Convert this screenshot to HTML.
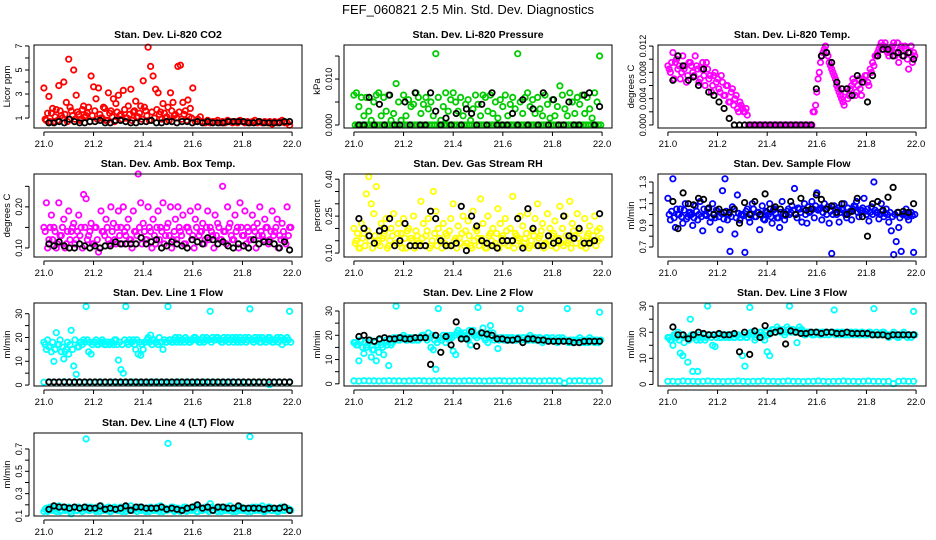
<!DOCTYPE html>
<html><head><meta charset="utf-8"><style>
html,body{margin:0;padding:0;background:#fff;}
svg{display:block;font-family:"Liberation Sans",sans-serif;}
</style></head><body>
<svg id="chart" width="936" height="540" viewBox="0 0 936 540">
<text x="468" y="14" text-anchor="middle" font-size="13">FEF_060821  2.5 Min. Std. Dev. Diagnostics</text>
</svg>
<script>
// ---- data arrays ----
const xTicks=[21.0,21.2,21.4,21.6,21.8,22.0];
const xTickLabels=["21.0","21.2","21.4","21.6","21.8","22.0"];

const co2Red=[3.5,0.8,2.8,1.4,0.7,1.7,3.7,1.2,4.0,2.3,5.9,1.6,5.0,2.9,1.3,0.9,2.0,1.2,1.9,4.5,3.6,2.6,3.5,1.0,1.9,0.8,3.1,1.6,2.6,2.2,2.9,1.3,3.3,1.0,2.0,3.4,1.5,2.4,1.1,2.0,4.1,1.6,6.9,5.3,4.5,3.4,3.1,1.5,2.2,1.0,1.9,3.1,2.3,1.3,5.3,5.4,2.3,1.6,2.5,1.8,3.5,0.7,0.9,1.1,0.7,0.6,0.8,0.6,0.7,0.7,0.8,0.6,0.7,0.6,0.8,0.7,0.6,0.7,0.6,0.8,0.7,0.6,0.7,0.6,0.7,0.8,0.6,0.7,0.6,0.7,0.6,0.7,0.5,0.7,0.6,0.7,0.8,0.6,0.6,0.4];
const co2RedBand=[0.9,1.4,0.7,1.8,1.1,0.8,1.6,1.0,1.3,0.7,1.9,1.2,0.9,1.5,0.8,1.7,1.1,1.4,0.7,1.2,1.6,0.9,1.3,1.0,1.8,0.8,1.4,1.1,0.7,1.5,1.2,0.9,1.7,1.0,1.3,0.8,1.6,1.1,1.4,0.9,1.9,1.2,0.8,1.5,1.0,1.7,1.3,0.9,1.4,1.1,0.8,1.6,1.2,1.0,1.5,0.9,1.3,0.8,1.1,1.0];
const co2Black=[0.6,0.6,0.7,0.6,0.9,0.7,0.6,0.6,0.7,0.7,0.8,0.6,0.6,0.8,0.8,0.7,0.6,0.6,0.7,0.7,0.8,0.6,0.6,0.7,0.7,0.6,0.7,0.7,0.6,0.7,0.6,0.7,0.6,0.6,0.6,0.7,0.7,0.7,0.7,0.6,0.6,0.7,0.6,0.6,0.6,0.6,0.7,0.7];

const presGreen=[0.0065,0.007,0.004,0.006,0.002,0.006,0.003,0.001,0.005,0.0065,0.007,0.002,0.006,0.003,0.0065,0.001,0.0025,0.009,0.005,0.001,0.0065,0.002,0.0055,0.004,0.0045,0.007,0.006,0.0025,0.0045,0.006,0.0035,0.005,0.002,0.0155,0.006,0.001,0.004,0.007,0.003,0.0055,0.007,0.005,0.003,0.006,0.002,0.0045,0.0055,0.001,0.0035,0.0065,0.0045,0.002,0.0065,0.006,0.003,0.0065,0.0025,0.005,0.0015,0.0055,0.004,0.0065,0.002,0.0045,0.006,0.0035,0.0155,0.005,0.0025,0.006,0.007,0.004,0.0055,0.0025,0.006,0.0035,0.002,0.0065,0.0045,0.0015,0.0055,0.002,0.004,0.0085,0.0065,0.0035,0.002,0.007,0.005,0.0025,0.006,0.0045,0.0065,0.0025,0.006,0.0035,0.0015,0.007,0.005,0.015];
const presGreenZero=[0,0,0,0,0,0,0,0,0,0,0,0,0,0,0,0,0,0,0,0,0,0,0,0,0,0,0,0,0,0,0,0,0,0,0,0,0,0,0,0,0,0,0,0,0,0,0,0,0,0,0,0,0,0,0,0,0,0,0,0,0,0,0,0,0,0,0,0,0,0,0,0,0,0,0,0,0,0,0,0,0,0,0,0,0,0,0,0,0,0,0,0,0,0,0,0,0,0,0,0];
const presBlack=[0,0,0.006,0,0.0045,0,0.0065,0,0,0.005,0,0.007,0,0,0.007,0.003,0,0.0015,0,0.0025,0,0.0035,0.0025,0,0.0045,0,0.007,0,0,0,0.0025,0,0.0055,0,0.0035,0,0.007,0,0.0055,0,0,0.005,0,0,0.0065,0.007,0,0.004];

const tempPink=[0.009,0.008,0.011,0.0095,0.0085,0.007,0.0105,0.009,0.0075,0.0095,0.008,0.0105,0.0085,0.007,0.0095,0.006,0.0085,0.0075,0.006,0.008,0.007,0.005,0.0065,0.0045,0.006,0.0035,0.0055,0.004,0.0025,0.0035,0.0025,0.002,0.0015,0,0,0,0,0,0,0,0,0,0,0,0,0,0,0,0,0,0,0,0,0,0,0,0,0,0,0.002,0.005,0.008,0.0105,0.0115,0.011,0.0095,0.0085,0.0075,0.006,0.005,0.004,0.003,0.0055,0.0045,0.006,0.0065,0.005,0.007,0.0045,0.0065,0.0075,0.006,0.008,0.009,0.0105,0.0115,0.0125,0.012,0.0115,0.0105,0.0115,0.0125,0.011,0.0095,0.012,0.0105,0.0115,0.0085,0.012,0.011];
const tempPinkBand=[0.0085,0.0095,0.007,0.01,0.009,0.008,0.0085,0.0065,0.0095,0.009,0.0075,0.009,0.0065,0.0085,0.0075,0.0095,0.007,0.005,0.0075,0.0065,0.0055,0.0075,0.0045,0.006,0.0035,0.005,0.003,0.0045,0.002,0.003,0.002,0.0025,0,0,0,0,0,0,0,0,0,0,0,0,0,0,0,0,0,0,0,0,0,0,0,0,0,0,0.002,0.003,0.007,0.0095,0.011,0.012,0.0105,0.009,0.008,0.007,0.0055,0.0045,0.0035,0.005,0.004,0.0055,0.007,0.0045,0.006,0.0055,0.007,0.0075,0.0065,0.0085,0.0095,0.0105,0.011,0.012,0.0115,0.0125,0.011,0.0115,0.012,0.0105,0.0125,0.0115,0.0105,0.012,0.01,0.011,0.0095,0.0105];
const tempBlack=[0.0068,0.0105,0.009,0.0068,0.0073,0.006,0.0085,0.005,0.0045,0.0035,0.0025,0.001,0,0,0,0,0,0,0,0,0,0,0,0,0,0,0,0,0.0055,0.0105,0.011,0.0095,0.0065,0.0055,0.0055,0.0045,0.0075,0.0065,0.0035,0.0075,0.0105,0.0115,0.0115,0.0105,0.011,0.0105,0.011,0.01];

const ambPink=[0.15,0.21,0.12,0.18,0.15,0.1,0.21,0.13,0.17,0.11,0.19,0.14,0.16,0.12,0.18,0.15,0.23,0.22,0.13,0.16,0.11,0.15,0.09,0.19,0.14,0.17,0.12,0.2,0.16,0.11,0.19,0.15,0.2,0.13,0.17,0.12,0.19,0.14,0.28,0.21,0.16,0.12,0.2,0.14,0.17,0.11,0.19,0.15,0.21,0.13,0.16,0.2,0.12,0.17,0.2,0.14,0.18,0.11,0.15,0.19,0.13,0.17,0.2,0.14,0.16,0.12,0.19,0.15,0.13,0.18,0.16,0.12,0.25,0.14,0.2,0.16,0.12,0.18,0.15,0.21,0.13,0.19,0.15,0.12,0.18,0.14,0.16,0.2,0.13,0.17,0.15,0.12,0.19,0.14,0.17,0.13,0.16,0.12,0.2,0.15];
const ambPinkBand=[0.14,0.1,0.15,0.12,0.14,0.11,0.13,0.15,0.1,0.14,0.12,0.15,0.11,0.14,0.13,0.1,0.15,0.12,0.14,0.11,0.15,0.12,0.1,0.14,0.13,0.15,0.11,0.14,0.12,0.15,0.13,0.11,0.14,0.15,0.12,0.1,0.14,0.13,0.15,0.11,0.14,0.12,0.15,0.1,0.13,0.15,0.12,0.14,0.11,0.15,0.13,0.1,0.14,0.12,0.15,0.13,0.11,0.15,0.14,0.12,0.1,0.15,0.13,0.14,0.11,0.15,0.12,0.14,0.1,0.13,0.15,0.12,0.14,0.11,0.15,0.13,0.12,0.14,0.1,0.15,0.13,0.11,0.14,0.12,0.15,0.1,0.13,0.14,0.12,0.15,0.11,0.14,0.13,0.15,0.1,0.12,0.14,0.11,0.13,0.15];
const ambBlack=[0.11,0.105,0.115,0.105,0.1,0.1,0.11,0.105,0.1,0.105,0.1,0.105,0.105,0.115,0.11,0.11,0.11,0.11,0.125,0.11,0.115,0.12,0.1,0.105,0.115,0.11,0.105,0.1,0.12,0.115,0.11,0.125,0.12,0.11,0.115,0.105,0.1,0.11,0.105,0.1,0.12,0.11,0.115,0.115,0.11,0.1,0.115,0.095];

const rhYellow=[0.2,0.15,0.12,0.22,0.18,0.34,0.41,0.3,0.26,0.37,0.15,0.22,0.17,0.24,0.13,0.2,0.26,0.14,0.22,0.18,0.24,0.12,0.2,0.16,0.25,0.19,0.14,0.31,0.22,0.17,0.24,0.13,0.35,0.27,0.2,0.15,0.22,0.18,0.13,0.24,0.3,0.16,0.21,0.14,0.25,0.19,0.23,0.13,0.27,0.2,0.16,0.32,0.22,0.12,0.25,0.18,0.2,0.14,0.28,0.22,0.17,0.24,0.13,0.2,0.33,0.18,0.15,0.25,0.21,0.16,0.26,0.13,0.19,0.24,0.3,0.17,0.22,0.14,0.26,0.2,0.17,0.23,0.15,0.29,0.2,0.25,0.14,0.31,0.22,0.17,0.26,0.19,0.13,0.24,0.17,0.21,0.15,0.25,0.19,0.2];
const rhYellowBand=[0.14,0.18,0.12,0.16,0.13,0.19,0.15,0.12,0.17,0.14,0.13,0.16,0.19,0.12,0.15,0.17,0.13,0.18,0.14,0.12,0.16,0.19,0.13,0.15,0.12,0.17,0.14,0.16,0.13,0.19,0.12,0.15,0.18,0.13,0.16,0.12,0.14,0.17,0.19,0.13,0.15,0.12,0.16,0.18,0.13,0.14,0.17,0.12,0.15,0.19,0.13,0.16,0.14,0.12,0.17,0.15,0.13,0.18,0.12,0.16,0.14,0.19,0.13,0.15,0.12,0.17,0.16,0.13,0.14,0.18,0.12,0.15,0.17,0.13,0.16,0.19,0.12,0.14,0.15,0.13,0.18,0.12,0.16,0.14,0.13,0.17,0.15,0.12,0.19,0.14,0.16,0.13,0.15,0.12,0.18,0.14,0.17,0.13,0.15,0.16];
const rhBlack=[0.24,0.2,0.17,0.14,0.19,0.2,0.24,0.13,0.15,0.22,0.13,0.13,0.13,0.13,0.27,0.24,0.15,0.13,0.13,0.14,0.29,0.11,0.25,0.21,0.15,0.14,0.13,0.12,0.15,0.15,0.15,0.24,0.12,0.28,0.2,0.13,0.13,0.17,0.14,0.15,0.25,0.17,0.16,0.2,0.14,0.14,0.15,0.26];

const flowBlue=[1.15,0.95,1.33,0.88,1.0,1.05,0.92,1.1,0.98,1.02,0.9,1.08,0.95,1.12,0.85,1.0,1.05,0.93,1.1,0.97,1.03,0.86,1.22,1.33,0.95,0.66,1.07,0.82,1.18,0.95,1.0,0.65,1.05,0.93,1.1,0.98,1.02,0.86,1.08,0.95,1.02,1.1,0.92,1.05,0.97,0.88,1.12,0.95,1.03,1.0,1.08,1.24,0.97,1.05,0.93,1.1,0.92,1.02,1.12,0.97,1.2,1.05,0.95,1.1,1.0,0.92,0.64,1.08,1.0,0.93,1.05,1.1,0.97,1.02,0.95,1.08,1.12,0.98,1.04,1.15,1.0,0.94,1.07,1.3,1.02,0.96,1.1,0.98,1.05,0.93,0.85,0.63,0.75,0.88,0.66,1.0,1.05,0.95,1.02,0.65];
const flowBlueBand=[1.0,1.03,0.97,1.05,1.0,0.98,1.04,0.96,1.02,1.0,0.97,1.03,1.0,0.98,1.05,0.99,1.02,0.97,1.0,1.04,0.98,1.01,0.96,1.03,1.0,0.98,1.05,0.97,1.01,1.0,0.99,1.03,0.97,1.0,1.05,0.98,1.02,1.0,0.96,1.03,1.0,0.98,1.04,1.01,0.97,1.02,1.0,0.99,1.05,1.02,1.04,1.0,1.06,1.02,1.05,1.0,1.07,1.03,1.05,1.08,1.04,1.06,1.02,1.05,1.07,1.03,1.0,1.05,1.06,1.02,1.04,1.0,1.06,1.03,1.05,1.07,1.02,1.04,1.06,1.03,1.05,1.02,1.0,1.04,1.02,1.0,1.03,1.01,1.0,1.02,0.98,1.0,1.02,0.97,1.0,1.01,0.98,1.0,0.99,1.0];
const flowBlack=[1.12,0.87,1.2,1.1,1.09,1.15,1.14,1.06,1.0,1.05,1.02,1.02,1.05,0.92,1.11,1.0,1.12,1.0,1.19,1.05,1.07,1.05,1.0,1.12,1.0,1.15,1.04,1.05,1.18,1.14,1.05,1.08,1.02,1.1,1.0,1.03,1.15,0.98,0.8,1.1,1.12,1.04,1.16,1.25,1.02,1.03,1.02,1.1];

const line1Cyan=[18,15,16,14,10,22,17,14,11,15,13,23,8,4.5,16,18,19,33,14,13,18,19,17,18,18,17,18,18,17,19,10.5,6.5,5,33,17,18,19,15,13,12.5,15,18,20,21,19,18,17,18,15,18,33,19,18,20,19,18,19,20,19,18,19,20,19,18,20,19,19,31,20,19,20,19,18,19,20,19,20,19,18,20,19,20,19,32,19,20,19,18,20,19,19,20,18,19,20,19,17,19,20,31];
const line1CyanBand=[17,19,16,18,15,17,19,16,14,18,17,15,19,16,18,17,18,19,18,17,18,17,18,19,17,18,17,18,19,17,18,17,19,18,19,18,17,19,18,17,18,19,18,17,19,18,20,18,19,18,19,18,19,18,20,19,18,19,18,19,20,19,18,19,18,20,19,18,19,20,19,18,20,19,18,19,18,20,19,18,19,18,20,19,18,19,20,18,19,18,20,19,18,19,18,20,19,18,19,18];
const line1CyanLow=[1.2,1.3,1.1,1.2,1.4,1.2,1.1,1.3,1.2,1.2,1.1,1.3,1.2,1.2,1.3,1.1,1.2,1.2,1.3,1.2,1.1,1.2,1.3,1.2,1.2,1.1,1.2,1.3,1.2,1.2,1.1,1.2,1.3,1.2,1.2,1.2,1.1,1.3,1.2,1.2,1.1,1.2,1.2,1.3,1.2,0.2,1.2,1.3,1.2,1.2];
const line1Black=[1.3,1.3,1.3,1.3,1.3,1.3,1.3,1.3,1.3,1.3,1.3,1.3,1.3,1.3,1.3,1.3,1.3,1.3,1.3,1.3,1.3,1.3,1.3,1.3,1.3,1.3,1.3,1.3,1.3,1.3,1.3,1.3,1.3,1.3,1.3,1.3,1.3,1.3,1.3,1.3,1.3,1.3,1.3,1.3,1.3,1.3,1.3,1.3];

const line2Cyan=[17,16,9.5,18,12.5,15,17,11,14,9.5,13,16,12,18,7.5,16,19,32,18,19,20,18,19,19,18,19,18,19,20,19,21,15,14,6,31,18,20,17,19,20,13.5,12,22,21,20,19,18,16,22,20,31.5,21,23,18,17,24,21,19,14.5,19,19,18,19,18,19,18,19,31,19,18,19,20,18,19,18,19,17,18,19,18,19,18,17,18,19,18,31,18,17,18,18,19,18,17,18,19,18,17,18,29.5];
const line2CyanBand=[17,16,18,15,17,16,18,14,17,16,18,15,17,16,18,17,18,19,18,19,19,18,19,18,19,18,19,20,19,18,19,20,18,17,19,18,19,20,18,19,20,21,20,19,21,20,22,21,20,19,20,21,19,20,21,19,18,19,18,19,18,19,18,19,18,18,19,18,19,18,18,19,18,18,19,18,18,19,18,18,18,18,19,18,18,18,17,18,18,18,18,17,18,18,17,18,18,18,17,18];
const line2CyanLow=[1.2,1.1,1.3,1.2,1.2,1.1,1.2,1.3,1.2,1.2,1.1,1.2,1.2,1.3,1.2,1.1,1.2,1.2,1.3,1.2,1.2,1.1,1.2,1.3,1.2,1.2,1.1,1.2,1.2,1.3,1.2,1.1,1.2,1.2,1.3,1.2,1.2,1.1,1.2,1.3,1.2,1.2,0.3,1.2,1.2,1.3,1.2,1.1,1.2,1.2];
const line2Black=[19.5,20,18,17.5,18.5,19,18.5,18.5,19,18.5,18.5,19,19,19,8,20,13,19.5,16,25.5,18.5,18.5,21.5,15.5,21,20.5,20,18.5,18.5,18,18,18.5,17,18.5,18.5,18,18,17.5,17.5,17.5,17.5,17.5,17,17,17.5,17.5,17.5,17.5];

const line3Cyan=[18,17,15,19,20,12,11,18,8.5,25,5,19,5,17,18,17,30,19,15,14.5,19,18,19,18,19,18,19,18,19,18,11,7,18,29.5,20,17,19,20,18,17,12.5,11,21,20,22,21,20,19,22,30,21,20,16,22,21,19,20,20,19,19,20,19,20,19,20,19,20,28.5,20,19,20,19,20,19,20,19,20,19,20,19,19,20,19,29,20,19,19,20,19,18,19,20,19,18,19,20,19,19,18,28];
const line3CyanBand=[18,17,19,18,17,19,16,18,17,19,18,17,19,18,19,18,19,18,19,18,19,18,19,19,18,19,18,19,19,18,19,18,19,20,19,18,19,20,19,20,19,20,21,20,21,20,21,20,21,20,21,20,20,21,20,19,20,20,19,20,20,19,20,20,19,20,20,19,20,19,20,19,19,20,19,20,19,19,20,19,19,20,19,19,19,19,20,19,19,19,19,19,18,19,19,19,18,19,19,19];
const line3CyanLow=[1.2,1.2,1.1,1.3,1.2,1.2,1.1,1.2,1.3,1.2,1.2,1.1,1.2,1.2,1.3,1.2,1.1,1.2,1.2,1.3,1.2,1.2,1.1,1.2,1.3,1.2,1.2,1.1,1.2,1.2,1.3,1.2,1.1,1.2,1.2,1.3,1.2,1.2,1.1,1.2,1.3,1.2,1.2,1.1,1.2,0.3,1.2,1.3,1.2,1.2];
const line3Black=[22,19,19,17.5,19,20,19.5,19,19,19.5,19,19,19.5,12.5,20,11.5,20.5,18,22.5,19.5,20,20.5,15.5,20.5,20,19.5,19.5,20,20,19.5,20,20,19.5,19.5,20,19.5,19.5,19.5,19.5,19,19,19,18.5,19,19,19,19,19];

const line4Cyan=[0.14,0.17,0.15,0.18,0.16,0.14,0.19,0.15,0.17,0.16,0.18,0.12,0.17,0.15,0.18,0.16,0.17,0.79,0.15,0.18,0.16,0.14,0.17,0.19,0.15,0.16,0.18,0.14,0.17,0.16,0.15,0.18,0.16,0.14,0.17,0.19,0.15,0.16,0.18,0.15,0.17,0.14,0.16,0.18,0.15,0.17,0.16,0.19,0.14,0.17,0.75,0.16,0.18,0.15,0.17,0.14,0.16,0.18,0.15,0.17,0.16,0.19,0.14,0.17,0.15,0.18,0.16,0.21,0.15,0.17,0.14,0.18,0.16,0.15,0.17,0.19,0.14,0.16,0.18,0.15,0.17,0.16,0.14,0.81,0.18,0.15,0.17,0.16,0.19,0.14,0.16,0.18,0.15,0.17,0.14,0.16,0.18,0.15,0.17,0.16];
const line4CyanBand=[0.16,0.14,0.18,0.15,0.17,0.16,0.14,0.18,0.15,0.17,0.14,0.16,0.18,0.15,0.17,0.14,0.16,0.18,0.15,0.17,0.16,0.18,0.14,0.16,0.17,0.15,0.14,0.16,0.18,0.15,0.17,0.14,0.16,0.18,0.15,0.16,0.17,0.14,0.16,0.18,0.15,0.17,0.14,0.16,0.15,0.18,0.14,0.16,0.17,0.15,0.16,0.18,0.14,0.17,0.15,0.16,0.18,0.14,0.17,0.15,0.16,0.14,0.18,0.15,0.17,0.16,0.14,0.18,0.15,0.17,0.16,0.14,0.17,0.18,0.15,0.16,0.17,0.14,0.16,0.18,0.15,0.17,0.16,0.14,0.16,0.18,0.15,0.17,0.14,0.16,0.18,0.15,0.17,0.16,0.14,0.18,0.15,0.17,0.16,0.15];
const line4Black=[0.16,0.19,0.18,0.18,0.17,0.18,0.17,0.18,0.17,0.17,0.19,0.16,0.17,0.16,0.17,0.19,0.15,0.18,0.18,0.17,0.17,0.17,0.18,0.16,0.17,0.16,0.15,0.17,0.18,0.2,0.17,0.18,0.15,0.18,0.18,0.17,0.17,0.19,0.17,0.17,0.17,0.17,0.16,0.17,0.17,0.17,0.18,0.15];

// tick arrays
const co2Ticks=[1,2,3,4,5,6,7], co2Labels=["1","3","5","7"];
const presTicks=[0,0.005,0.01,0.015], presLabels=["0.000","0.010"];
const tempTicks=[0,0.002,0.004,0.006,0.008,0.01,0.012], tempLabels=["0.000","0.004","0.008","0.012"];
const ambTicks=[0.1,0.15,0.2,0.25], ambLabels=["0.10","0.20"];
const rhTicks=[0.1,0.15,0.2,0.25,0.3,0.35,0.4], rhLabels=["0.10","0.25","0.40"];
const sfTicks=[0.7,0.8,0.9,1.0,1.1,1.2,1.3], sfLabels=["0.7","0.9","1.1","1.3"];
const lfTicks=[0,5,10,15,20,25,30], lfLabels=["0","10","20","30"];
const l4Ticks=[0.1,0.2,0.3,0.4,0.5,0.6,0.7], l4Labels=["0.1","0.3","0.5","0.7"];

// ---- layout config ----
const colLeft=[34,344,658], rowTop=[45,174,303,433], boxW=268, boxH=83;
const X0=20.96, X1=22.04;
const panels=[
 {name:"co2",title:"Stan. Dev. Li-820 CO2",ylab:"Licor ppm",c:0,r:0,y0:0.17,y1:7.08,ticks:co2Ticks,labels:co2Labels,
  series:[[co2RedBand,"#ff0000",21.005,21.595],[co2Red,"#ff0000",21.0,21.99],[co2Black,"#000",21.02,21.99]]},
 {name:"pressure",title:"Stan. Dev. Li-820 Pressure",ylab:"kPa",c:1,r:0,y0:-0.00065,y1:0.0174,ticks:presTicks,labels:presLabels,
  series:[[presGreenZero,"#00cc00",21.005,21.995],[presGreen,"#00cc00",21.0,21.99],[presBlack,"#000",21.02,21.99]]},
 {name:"temp",title:"Stan. Dev. Li-820 Temp.",ylab:"degrees C",c:2,r:0,y0:-0.00046,y1:0.01216,ticks:tempTicks,labels:tempLabels,
  series:[[tempPinkBand,"#ff00ff",21.005,21.995],[tempPink,"#ff00ff",21.0,21.99],[tempBlack,"#000",21.02,21.99]]},
 {name:"amb-temp",title:"Stan. Dev. Amb. Box Temp.",ylab:"degrees C",c:0,r:1,y0:0.078,y1:0.28,ticks:ambTicks,labels:ambLabels,
  series:[[ambPinkBand,"#ff00ff",21.005,21.995],[ambPink,"#ff00ff",21.0,21.99],[ambBlack,"#000",21.02,21.99]]},
 {name:"rh",title:"Stan. Dev. Gas Stream RH",ylab:"percent",c:1,r:1,y0:0.084,y1:0.421,ticks:rhTicks,labels:rhLabels,
  series:[[rhYellowBand,"#ffff00",21.005,21.995],[rhYellow,"#ffff00",21.0,21.99],[rhBlack,"#000",21.02,21.99]]},
 {name:"sample-flow",title:"Stan. Dev. Sample Flow",ylab:"ml/min",c:2,r:1,y0:0.608,y1:1.374,ticks:sfTicks,labels:sfLabels,
  series:[[flowBlueBand,"#0000ff",21.005,21.995],[flowBlue,"#0000ff",21.0,21.99],[flowBlack,"#000",21.02,21.99]]},
 {name:"line1",title:"Stan. Dev. Line 1 Flow",ylab:"ml/min",c:0,r:2,y0:-0.4,y1:34.5,ticks:lfTicks,labels:lfLabels,
  series:[[line1CyanBand,"#00ffff",21.005,21.995],[line1Cyan,"#00ffff",21.0,21.99],[line1CyanLow,"#00ffff",21.0,21.99],[line1Black,"#000",21.02,21.99]]},
 {name:"line2",title:"Stan. Dev. Line 2 Flow",ylab:"ml/min",c:1,r:2,y0:-0.9,y1:33.3,ticks:lfTicks,labels:lfLabels,
  series:[[line2CyanBand,"#00ffff",21.005,21.995],[line2Cyan,"#00ffff",21.0,21.99],[line2CyanLow,"#00ffff",21.0,21.99],[line2Black,"#000",21.02,21.99]]},
 {name:"line3",title:"Stan. Dev. Line 3 Flow",ylab:"ml/min",c:2,r:2,y0:-0.6,y1:31.2,ticks:lfTicks,labels:lfLabels,
  series:[[line3CyanBand,"#00ffff",21.005,21.995],[line3Cyan,"#00ffff",21.0,21.99],[line3CyanLow,"#00ffff",21.0,21.99],[line3Black,"#000",21.02,21.99]]},
 {name:"line4",title:"Stan. Dev. Line 4 (LT) Flow",ylab:"ml/min",c:0,r:3,y0:0.1,y1:0.843,ticks:l4Ticks,labels:l4Labels,
  series:[[line4CyanBand,"#00ffff",21.005,21.995],[line4Cyan,"#00ffff",21.0,21.99],[line4Black,"#000",21.02,21.99]]}
];

const NS="http://www.w3.org/2000/svg";
const svg=document.getElementById("chart");
function mk(tag,attrs,parent){const e=document.createElementNS(NS,tag);for(const k in attrs)e.setAttribute(k,attrs[k]);parent.appendChild(e);return e;}

panels.forEach(p=>{
  const L=colLeft[p.c], T=rowTop[p.r], B=T+boxH;
  const xs=v=>L+(v-X0)/(X1-X0)*boxW;
  const ys=v=>B-(v-p.y0)/(p.y1-p.y0)*boxH;
  const g=mk("g",{},svg);
  
  
  const t=mk("text",{x:L+boxW/2,y:T-7,"text-anchor":"middle","font-size":"10.5","font-weight":"bold"},g);
  t.textContent=p.title;
  
  
  const yl=mk("text",{x:0,y:0,"text-anchor":"middle","font-size":"9.5",transform:`translate(${L-24},${T+boxH/2}) rotate(-90)`},g);
  yl.textContent=p.ylab;
  
  
  const pg=mk("g",{fill:"none","stroke-width":"1.8"},g);
  
  
  p.series.forEach(s=>{
    const arr=s[0], n=arr.length;
    arr.forEach((v,i)=>{
      const tx=s[2]+i*(s[3]-s[2])/(n-1);
      const c=mk("circle",{cx:xs(tx).toFixed(1),cy:ys(v).toFixed(1),r:"2.7",stroke:s[1]},pg);
      
      
    });
  });
  const box=mk("rect",{x:L,y:T,width:boxW,height:boxH,fill:"none",stroke:"#000","stroke-width":"1"},g);
  
  
  const ya=mk("g",{stroke:"#000","stroke-width":"1"},g);
  
  
  mk("line",{x1:L-5,x2:L-5,y1:ys(p.ticks[0]),y2:ys(p.ticks[p.ticks.length-1])},ya);
  p.ticks.forEach(v=>{mk("line",{x1:L-9,x2:L-5,y1:ys(v),y2:ys(v)},ya);});
  p.labels.forEach(lb=>{
    const v=parseFloat(lb);
    const tl=mk("text",{x:0,y:0,"text-anchor":"middle","font-size":"9",stroke:"none",transform:`translate(${L-12},${ys(v)}) rotate(-90)`},g);
    tl.textContent=lb;
    
    
  });
  const xa=mk("g",{stroke:"#000","stroke-width":"1"},g);
  
  
  mk("line",{x1:xs(xTicks[0]),x2:xs(xTicks[xTicks.length-1]),y1:B+4,y2:B+4},xa);
  xTicks.forEach((v,i)=>{
    mk("line",{x1:xs(v),x2:xs(v),y1:B+4,y2:B+8},xa);
    const tl=mk("text",{x:xs(v),y:B+19,"text-anchor":"middle","font-size":"9.5"},g);
    tl.textContent=xTickLabels[i];
    
    
  });
});
</script>
</body></html>
